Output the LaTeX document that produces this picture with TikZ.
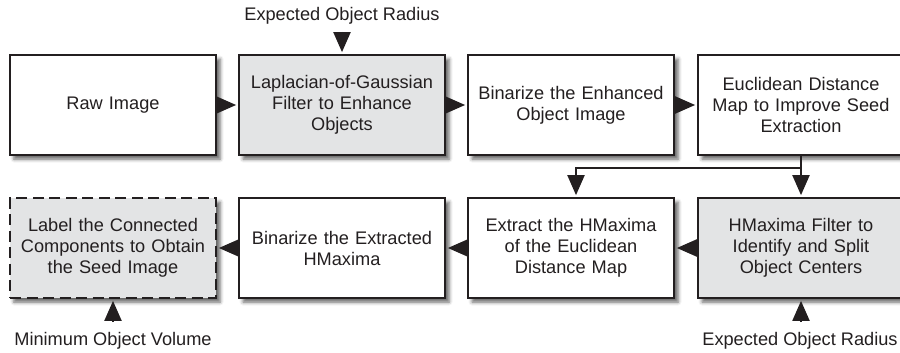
\documentclass[tikz,border=0pt]{standalone}
\usepackage{fontspec}
\setmainfont{Liberation Sans}
\usetikzlibrary{arrows.meta,shadows.blur,calc}
\definecolor{ink}{HTML}{231F20}
\definecolor{boxgray}{HTML}{E3E4E5}
\tikzset{
  stepbox/.style={draw=ink, line width=2.7pt, fill=white, rectangle,
    minimum width=206pt, minimum height=100pt, inner sep=0pt,
    text width=190pt, align=center, text=ink,
    font=\fontsize{18.2}{21}\selectfont,
    blur shadow={shadow xshift=4pt, shadow yshift=-4pt, shadow blur radius=3.5pt, shadow opacity=60}},
  graybox/.style={stepbox, fill=boxgray},
  dashbox/.style={graybox, dash pattern=on 11pt off 5.5pt},
  tri/.style={-{Triangle[length=20pt,width=17pt]}, line width=2pt, draw=ink, color=ink, shorten >=1.5pt},
  lbl/.style={text=ink, font=\fontsize{18.2}{21}\selectfont, inner sep=0pt},
}
\begin{document}
\begin{tikzpicture}[x=1pt,y=-1pt]
\useasboundingbox (0,0) rectangle (900,353);
\node[stepbox] (raw) at (113,105) {Raw Image};
\node[graybox] (log) at (342,105) {Laplacian-of-Gaussian\\Filter to Enhance\\Objects};
\node[stepbox] (bin) at (571,105) {Binarize the Enhanced\\Object Image};
\node[stepbox] (edm) at (801,105) {Euclidean Distance\\Map to Improve Seed\\Extraction};
\node[dashbox] (lab) at (113,248) {Label the Connected\\Components to Obtain\\the Seed Image};
\node[stepbox] (binh) at (342,248) {Binarize the Extracted\\HMaxima};
\node[stepbox] (ext) at (571,248) {Extract the HMaxima\\of the Euclidean\\Distance Map};
\node[graybox] (hmf) at (801,248) {HMaxima Filter to\\Identify and Split\\Object Centers};
\node[lbl] (t1) at (342,16) {Expected Object Radius};
\node[lbl] (t2) at (113,341) {Minimum Object Volume};
\node[lbl] (t3) at (800,341) {Expected Object Radius};
\coordinate (a1) at (342,32);
\coordinate (a2) at (113,322);
\coordinate (a3) at (801,322);
\coordinate (j) at (801,168);
\draw[tri] (raw) -- (log);
\draw[tri] (log) -- (bin);
\draw[tri] (bin) -- (edm);
\draw[line width=2pt, draw=ink] (edm.south) -- (j);
\draw[tri] (j) -- (hmf.north);
\draw[tri] (j) -| ([xshift=5pt]ext.north);
\draw[tri] (hmf) -- (ext);
\draw[tri] (ext) -- (binh);
\draw[tri] (binh) -- (lab);
\draw[tri] (a1) -- (log.north);
\draw[tri] (a2) -- (lab.south);
\draw[tri] (a3) -- (hmf.south);
\end{tikzpicture}
\end{document}
